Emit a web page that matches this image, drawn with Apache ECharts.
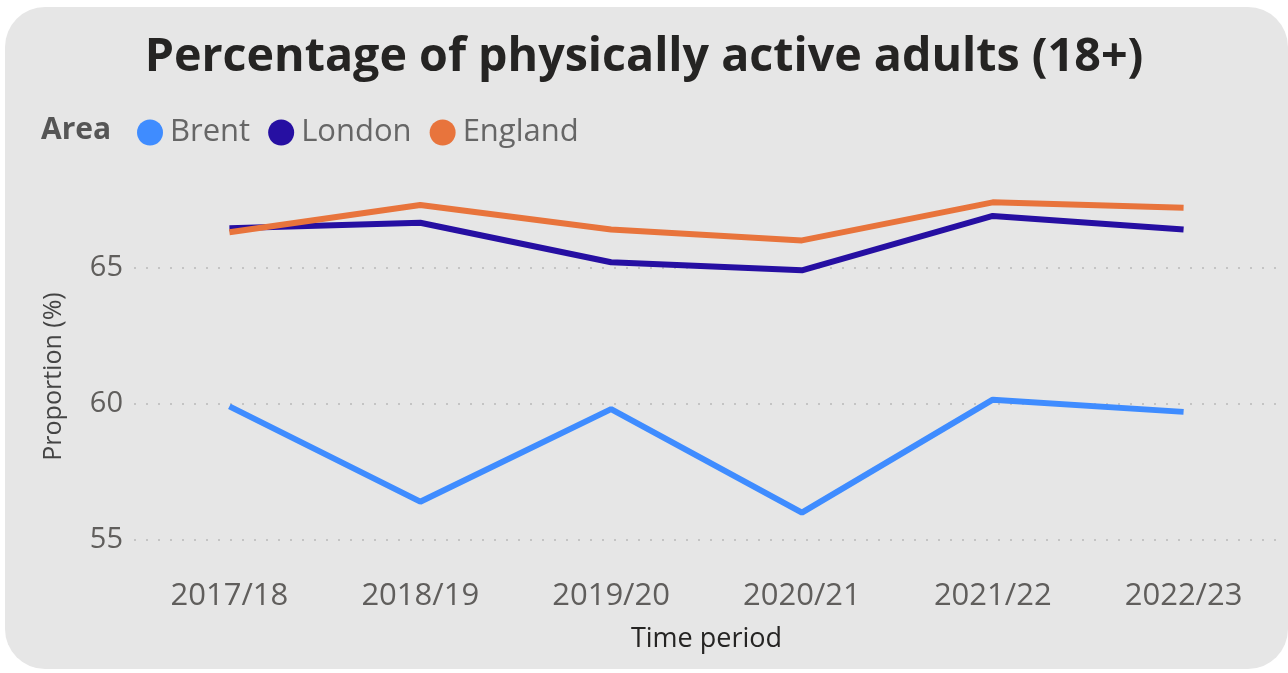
<!DOCTYPE html>
<html>
<head>
<meta charset="utf-8">
<script src="https://cdn.jsdelivr.net/npm/echarts@6/dist/echarts.min.js"></script>
<style>
html,body{margin:0;padding:0;background:#ffffff;}
#chart{width:1288px;height:673px;}
</style>
</head>
<body>
<div id="chart"></div>
<script>
const categories = ['2017/18', '2018/19', '2019/20', '2020/21', '2021/22', '2022/23'];
const brent = [59.9, 56.4, 59.8, 56.0, 60.15, 59.7];
const london = [66.45, 66.65, 65.2, 64.9, 66.9, 66.4];
const england = [66.3, 67.3, 66.4, 66.0, 67.4, 67.2];
const yTicks = [55, 60, 65];
const yMin = 54, yMax = 68;

const gridColors = [];
for (let v = yMin; v <= yMax; v++) {
  gridColors.push(yTicks.indexOf(v) >= 0 ? '#c4c4c4' : 'rgba(0,0,0,0)');
}

const FONT = '"Open Sans", "Segoe UI", sans-serif';
const chart = echarts.init(document.getElementById('chart'), null, {renderer: 'canvas'});
chart.setOption({
  backgroundColor: '#ffffff',
  animation: false,
  graphic: [{
    type: 'rect', z: -10, silent: true,
    shape: {x: 5, y: 7, width: 1283, height: 662, r: 40},
    style: {fill: '#e6e6e6'}
  }],
  title: [{
    text: 'Percentage of physically active adults (18+)',
    left: 'center', top: 29, padding: [5, 5, 5, 19],
    textStyle: {fontFamily: FONT, fontWeight: 'bold', fontSize: 46.6, color: '#252423'}
  }, {
    text: 'Area', left: 36, top: 110,
    textStyle: {fontFamily: FONT, fontWeight: 'bold', fontSize: 30, color: '#555555'}
  }],
  legend: {
    left: 132, top: 112,
    icon: 'circle', itemWidth: 26, itemHeight: 26, itemGap: 18,
    textStyle: {fontFamily: FONT, fontSize: 31, color: '#666666', padding: [0, 0, 0, 2]},
    data: ['Brent', 'London', 'England']
  },
  grid: {left: 134, right: 9, top: 186, bottom: 106, containLabel: false},
  xAxis: {
    type: 'category', data: categories, boundaryGap: true,
    name: 'Time period', nameLocation: 'middle', nameGap: 59,
    nameTextStyle: {fontFamily: FONT, fontSize: 27, color: '#252423'},
    axisLine: {show: false}, axisTick: {show: false},
    axisLabel: {fontFamily: FONT, fontSize: 31, color: '#605e5c', margin: 14}
  },
  yAxis: {
    type: 'value', min: yMin, max: yMax, interval: 1,
    name: 'Proportion (%)', nameLocation: 'middle', nameGap: 68,
    nameTextStyle: {fontFamily: FONT, fontSize: 25, color: '#444444'},
    axisLine: {show: false}, axisTick: {show: false},
    axisLabel: {fontFamily: FONT, fontSize: 29, color: '#605e5c', margin: 11,
      formatter: v => (yTicks.indexOf(v) >= 0 ? String(v) : '')},
    splitLine: {show: true, lineStyle: {color: gridColors, type: [2, 10], width: 2}}
  },
  series: [
    {name: 'Brent', type: 'line', data: brent, symbol: 'none', color: '#3f8cff',
      lineStyle: {width: 6, color: '#3f8cff'}},
    {name: 'London', type: 'line', data: london, symbol: 'none', color: '#260fa2',
      lineStyle: {width: 6, color: '#260fa2'}},
    {name: 'England', type: 'line', data: england, symbol: 'none', color: '#e8743c',
      lineStyle: {width: 6, color: '#e8743c'}}
  ]
});
</script>
</body>
</html>
